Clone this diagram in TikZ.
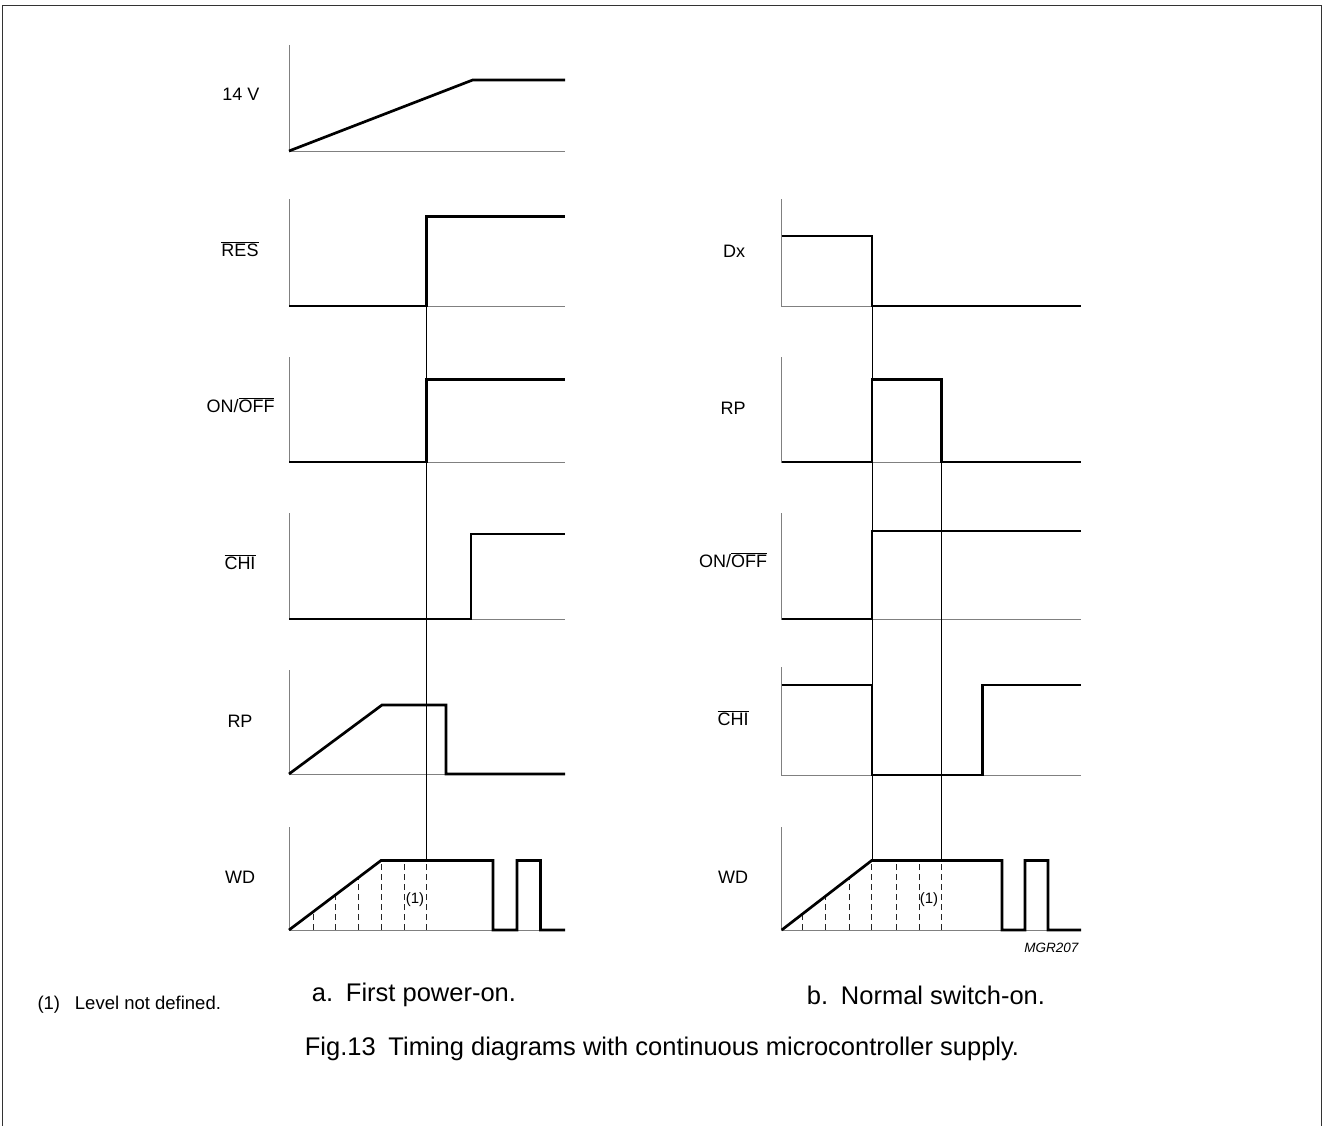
\documentclass[tikz,border=0pt]{standalone}
\usepackage{fontspec}
\setmainfont{Liberation Sans}
\newcommand{\ovl}[1]{$\overline{\mbox{#1}}$}
\begin{document}
\begin{tikzpicture}[x=1pt,y=-1pt,
  axisline/.style={draw=black!50, line width=0.9pt},
  sig/.style={draw=black, line width=2.7pt},
  tmarker/.style={draw=black, line width=0.7pt},
  undef/.style={draw=black!85, line width=0.7pt, dash pattern=on 6pt off 4pt},
  lbl/.style={font=\fontsize{18}{21}\selectfont, anchor=center},
  captext/.style={font=\fontsize{25.5}{29}\selectfont},
  frameline/.style={draw=black!80, line width=1.8pt}]
\useasboundingbox (0,0) rectangle (1324,1126);
% frame (open at the bottom)
\draw[frameline] (2.5,1126) -- (2.5,5.5) -- (1321.5,5.5) -- (1321.5,1126);

% ---------------- left column: a. First power-on ----------------
% 14 V
\draw[axisline] (289,45) -- (289,151) -- (565,151);
\draw[sig] (289,151) -- (472.7,80) -- (565,80);
\node[lbl] (l14) at (241,94) {14 V};
% RES
\draw[axisline] (289,199) -- (289,306) -- (565,306);
\draw[sig] (289,306) -- (426.7,306) -- (426.7,216.7) -- (565,216.7);
\node[lbl] (lres) at (240,249) {\ovl{RES}};
% ON/OFF
\draw[axisline] (289,357) -- (289,462) -- (565,462);
\draw[sig] (289,462) -- (426.7,462) -- (426.7,379.3) -- (565,379.3);
\node[lbl] (lon) at (240.5,405) {ON/\ovl{OFF}};
% CHI
\draw[axisline] (289,513) -- (289,619) -- (565,619);
\draw[sig] (289,619) -- (471,619) -- (471,534) -- (565,534);
\node[lbl] (lchi) at (240,562) {\ovl{CHI}};
% RP
\draw[axisline] (289,670) -- (289,774) -- (565,774);
\draw[sig] (289,774) -- (382,705) -- (446,705) -- (446,774) -- (565,774);
\node[lbl] (lrp) at (240,721) {RP};
% WD
\draw[axisline] (289,827) -- (289,930) -- (565,930);
\foreach \x/\y in {313.3/911.6, 335.7/894.7, 358.7/877.3, 381/860.5, 404/860.5, 426.7/860.5}
  \draw[undef] (\x,930) -- (\x,\y);
\draw[sig] (289,930) -- (381,860.5) -- (493,860.5) -- (493,930) -- (517,930) -- (517,860.5) -- (540.5,860.5) -- (540.5,930) -- (565,930);
\node[lbl] (lwd) at (240,877) {WD};
\node[font=\fontsize{15}{18}\selectfont] (lu) at (415,900) {(1)};
% timing marker
\coordinate (ma1) at (426.7,306);
\coordinate (ma2) at (426.7,860.5);
\draw[tmarker] (ma1) -- (ma2);

% ---------------- right column: b. Normal switch-on ----------------
% Dx
\draw[axisline] (781.7,199) -- (781.7,306) -- (1081,306);
\draw[sig] (781.7,236) -- (872,236) -- (872,306) -- (1081,306);
\node[lbl] (rdx) at (734,251) {Dx};
% RP
\draw[axisline] (781.7,357) -- (781.7,462) -- (1081,462);
\draw[sig] (781.7,462) -- (872,462) -- (872,379.3) -- (941.5,379.3) -- (941.5,462) -- (1081,462);
\node[lbl] (rrp) at (733,408) {RP};
% ON/OFF
\draw[axisline] (781.7,513) -- (781.7,619) -- (1081,619);
\draw[sig] (781.7,619) -- (872,619) -- (872,531) -- (1081,531);
\node[lbl] (ron) at (733,560) {ON/\ovl{OFF}};
% CHI
\draw[axisline] (781.7,667) -- (781.7,775) -- (1081,775);
\draw[sig] (781.7,685) -- (872,685) -- (872,775) -- (982.5,775) -- (982.5,685) -- (1081,685);
\node[lbl] (rchi) at (733,718) {\ovl{CHI}};
% WD
\draw[axisline] (781.7,827) -- (781.7,930) -- (1081,930);
\foreach \x/\y in {802.3/914.1, 825.7/896, 849/878, 871.7/860.5, 896/860.5, 919/860.5, 941.5/860.5}
  \draw[undef] (\x,930) -- (\x,\y);
\draw[sig] (781.7,930) -- (871.7,860.5) -- (1002,860.5) -- (1002,930) -- (1025,930) -- (1025,860.5) -- (1048,860.5) -- (1048,930) -- (1081,930);
\node[lbl] (rwd) at (733,877) {WD};
\node[font=\fontsize{15}{18}\selectfont] (ru) at (929,900) {(1)};
\node[font=\itshape\fontsize{13.5}{16}\selectfont, anchor=east] (mgr) at (1082,948) {MGR207};
% timing markers
\coordinate (mb1) at (872,306);
\coordinate (mb2) at (872,860.5);
\coordinate (mc1) at (941.5,462);
\coordinate (mc2) at (941.5,860.5);
\draw[tmarker] (mb1) -- (mb2);
\draw[tmarker] (mc1) -- (mc2);

% ---------------- captions ----------------
\node[captext] (capa) at (414,995) {a.\hspace{0.5em}First power-on.};
\node[captext] (capb) at (926,995) {b.\hspace{0.5em}Normal switch-on.};
\node[font=\fontsize{18.5}{22}\selectfont, anchor=west] (note) at (34,1005) {(1)\hspace{0.8em}Level not defined.};
\node[captext] (fig) at (662,1049) {Fig.13\hspace{0.5em}Timing diagrams with continuous microcontroller supply.};
\end{tikzpicture}
\end{document}
